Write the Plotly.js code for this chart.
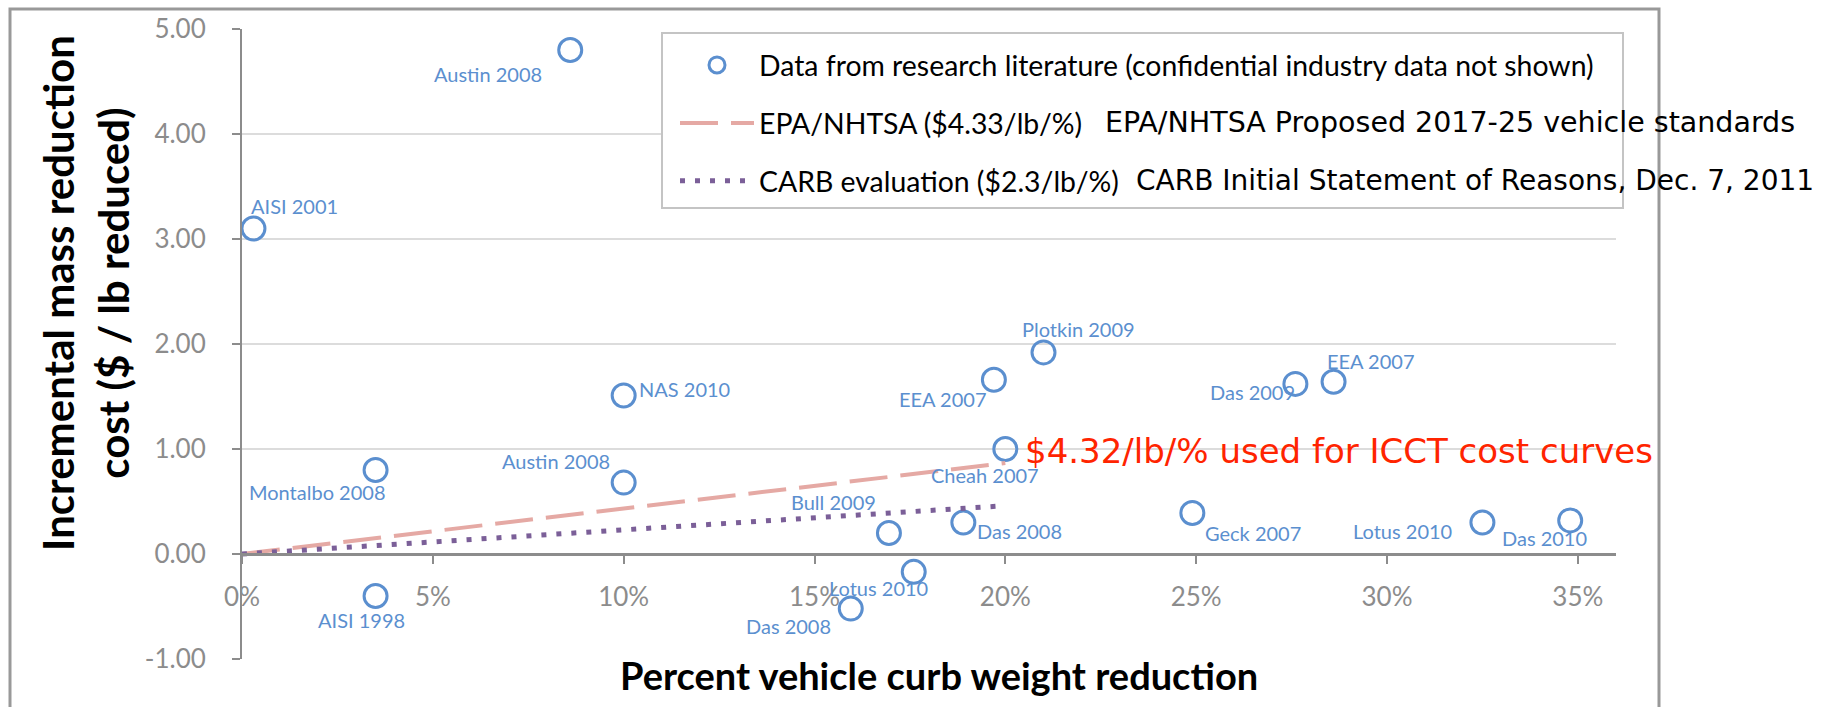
<!DOCTYPE html>
<html>
<head>
<meta charset="utf-8">
<script src="https://cdn.plot.ly/plotly-3.0.1.min.js"></script>
<style>html,body{margin:0;padding:0;background:#fff;}#chart{width:1830px;height:707px;}</style>
</head>
<body>
<div id="chart"></div>
<script>
// ---- data ----
const studies = ['AISI 2001','Austin 2008','NAS 2010','Austin 2008','Montalbo 2008','AISI 1998','Das 2008','Lotus 2010','Bull 2009','Das 2008','Cheah 2007','EEA 2007','Plotkin 2009','Das 2009','EEA 2007','Geck 2007','Lotus 2010','Das 2010'];
const weightReduction = [0.003,0.086,0.100,0.100,0.035,0.035,0.1595,0.176,0.1695,0.189,0.200,0.197,0.210,0.276,0.286,0.249,0.325,0.348];
const costPerLb = [3.10,4.80,1.51,0.68,0.80,-0.40,-0.52,-0.17,0.20,0.30,1.00,1.66,1.92,1.62,1.64,0.39,0.30,0.32];

const epaX = [0, 0.20];
const epaY = [0, 0.866];
const carbX = [0, 0.20];
const carbY = [0, 0.46];

const seriesNames = ['Data from research literature (confidential industry data not shown)','EPA/NHTSA ($4.33/lb/%)','CARB evaluation ($2.3/lb/%)'];
const sourceNotes = ['EPA/NHTSA Proposed 2017-25 vehicle standards','CARB Initial Statement of Reasons, Dec. 7, 2011'];
const calloutText = '$4.32/lb/% used for ICCT cost curves';
const xTitle = 'Percent vehicle curb weight reduction';
const yTitle = 'Incremental mass reduction<br>cost ($ / lb reduced)';
const xTicks = [0,0.05,0.10,0.15,0.20,0.25,0.30,0.35];
const xTickText = ['0%','5%','10%','15%','20%','25%','30%','35%'];
const yTicks = [-1,0,1,2,3,4,5];
const yTickText = ['-1.00','0.00','1.00','2.00','3.00','4.00','5.00'];

// label offsets in pixels (style only)
const labelDx = [41,-82,61,-68,-58,-14,-62,-35,-55,56,-20,-51,35,-43,37,61,-80,-26];
const labelDy = [-23,24,-6,-22,22,24,17,16,-31,8,26,19,-23,8,-21,20,8,18];

const BLUE = '#5b8fcf';
const GRAY = '#8c8c8c';
const LABEL_FONT = 'Lato, "Open Sans", sans-serif';
const NOTE_FONT = '"DejaVu Sans", Verdana, sans-serif';

const traces = [
  {x: weightReduction, y: costPerLb, type:'scatter', mode:'markers', name: seriesNames[0], legendgroup:'a',
   marker:{symbol:'circle-open', size:23, color:BLUE, line:{width:3, color:BLUE}}},
  {x: epaX, y: epaY, type:'scatter', mode:'lines', name: seriesNames[1], legendgroup:'b',
   line:{color:'#e5a9a4', width:4, dash:'38px,13px'}},
  {x: carbX, y: carbY, type:'scatter', mode:'lines', name: seriesNames[2], legendgroup:'c',
   line:{color:'#7b5f98', width:5, dash:'5px,10px'}}
];

const annotations = studies.map((s,i)=>({
  x: weightReduction[i], y: costPerLb[i], xref:'x', yref:'y', text: s, showarrow:false,
  xshift: labelDx[i], yshift: -labelDy[i], xanchor:'center', yanchor:'middle',
  font:{family:LABEL_FONT, size:20, color:BLUE}
}));

const px = v => (v-242)/1374;
const py = v => (659-v)/630;

annotations.push(
  {x:0.2045, y:0.98, xref:'x', yref:'y', text: calloutText, showarrow:false, xanchor:'left', yanchor:'middle',
   font:{family:NOTE_FONT, size:34, color:'#ff2400'}},
  {x:px(1103), y:py(122), xref:'paper', yref:'paper', text: sourceNotes[0], showarrow:false, xanchor:'left', yanchor:'middle',
   font:{family:NOTE_FONT, size:28.5, color:'#000'}},
  {x:px(1134), y:py(180), xref:'paper', yref:'paper', text: sourceNotes[1], showarrow:false, xanchor:'left', yanchor:'middle',
   font:{family:NOTE_FONT, size:28, color:'#000'}},
  {x:px(939), y:py(675), xref:'paper', yref:'paper', text: xTitle, showarrow:false, xanchor:'center', yanchor:'middle',
   font:{family:LABEL_FONT, size:38, color:'#000', weight:'bold'}},
  {x:px(86), y:py(293), xref:'paper', yref:'paper', text: yTitle, showarrow:false, xanchor:'center', yanchor:'middle', textangle:-90,
   font:{family:LABEL_FONT, size:42, color:'#000', weight:'bold'}}
);

const layout = {
  width:1830, height:707,
  margin:{l:242, r:214, t:29, b:48, pad:0},
  paper_bgcolor:'#fff', plot_bgcolor:'#fff',
  showlegend:true,
  legend:{x:px(675), y:py(40), xanchor:'left', yanchor:'top', bgcolor:'rgba(0,0,0,0)', borderwidth:0,
          font:{family:LABEL_FONT, size:28.4, color:'#000'}, itemwidth:74, tracegroupgap:18},
  xaxis:{range:[0,0.36], anchor:'free', position:1/6, tickmode:'array', tickvals:xTicks, ticktext:xTickText,
         showgrid:false, zeroline:false, showline:true, linecolor:GRAY, linewidth:3,
         ticks:'outside', ticklen:8, tickwidth:2, tickcolor:GRAY, ticklabelstandoff:11,
         tickfont:{family:LABEL_FONT, size:26, color:GRAY}},
  yaxis:{range:[-1,5], tickmode:'array', tickvals:yTicks, ticktext:yTickText, showgrid:true, gridcolor:'#dcdcdc', gridwidth:2,
         zeroline:false, showline:true, linecolor:GRAY, linewidth:2,
         ticks:'outside', ticklen:8, tickwidth:2, tickcolor:GRAY, ticklabelstandoff:21,
         tickfont:{family:LABEL_FONT, size:26, color:GRAY}},
  shapes:[
    {type:'rect', xref:'paper', yref:'paper', x0:px(662), x1:px(1623), y0:py(208), y1:py(33),
     fillcolor:'#fff', line:{color:'#c4c4c4', width:2}, layer:'above'},
    {type:'path', xref:'paper', yref:'paper', path:`M${px(10)},${py(720)} L${px(10)},${py(9)} L${px(1659)},${py(9)} L${px(1659)},${py(720)}`,
     line:{color:'#999', width:3}}
  ],
  annotations: annotations,
  hovermode:false
};

Plotly.newPlot('chart', traces, layout, {staticPlot:true, displayModeBar:false});
</script>
</body>
</html>
